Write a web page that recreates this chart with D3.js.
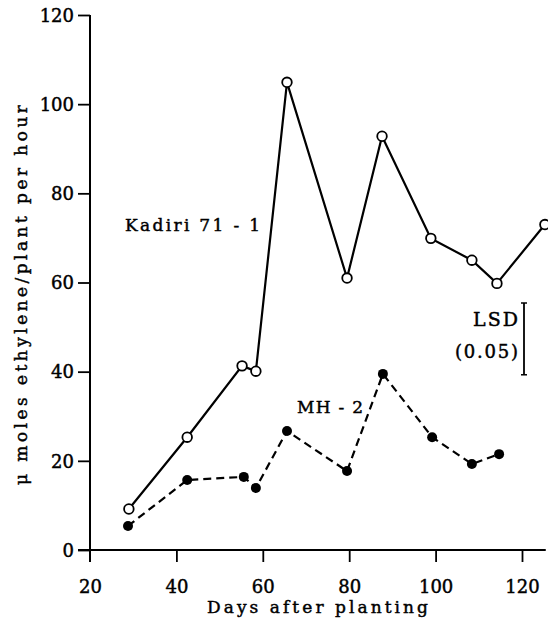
<!DOCTYPE html>
<html><head><meta charset="utf-8">
<script src="https://cdn.jsdelivr.net/npm/d3@7"></script>
<style>body{margin:0;background:#fff}svg{display:block}text{font-family:"DejaVu Serif","Liberation Serif",serif;fill:#000;stroke:#000;stroke-width:0.45px}</style>
</head><body><svg id="c" width="548" height="627"></svg>
<script>
const kadiriDays = [29, 42.5, 55.2, 58.4, 65.6, 79.5, 87.6, 98.9, 108.4, 114.2, 125.3];
const kadiriVals = [9.2, 25.3, 41.3, 40.1, 104.9, 61.0, 92.8, 69.9, 65.0, 59.8, 73.0];
const mhDays = [28.8, 42.5, 55.6, 58.4, 65.6, 79.5, 87.8, 99.2, 108.4, 114.7];
const mhVals = [5.4, 15.7, 16.4, 13.9, 26.7, 17.7, 39.5, 25.3, 19.3, 21.5];
const xTicks = [20, 40, 60, 80, 100, 120];
const yTicks = [0, 20, 40, 60, 80, 100, 120];
const lsdValue = 16.1;

const svg = d3.select("#c");
const x = d3.scaleLinear().domain([20, 120]).range([90, 522]);
const y = d3.scaleLinear().domain([0, 120]).range([550, 15]);

// axes
const xAxis = d3.axisBottom(x).tickValues(xTicks).tickSize(12).tickSizeOuter(0).tickPadding(18);
const gx = svg.append("g").attr("transform", `translate(0,${y(0)})`).call(xAxis);
gx.select(".domain").attr("d", `M${x(20)-12},0H${x(125.5)}`);
const yAxis = d3.axisLeft(y).tickValues(yTicks).tickSize(12).tickSizeOuter(0).tickPadding(4);
const gy = svg.append("g").attr("transform", `translate(${x(20)},0)`).call(yAxis);
gy.select(".domain").attr("d", `M0,${y(120)}V${y(0)+12}`);
svg.selectAll(".domain").attr("stroke", "#000").attr("stroke-width", 2);
svg.selectAll(".tick line").attr("stroke", "#000").attr("stroke-width", 1.8);
gx.selectAll(".tick line").attr("y1", 0);
gy.selectAll(".tick line").attr("x1", 0);
gx.selectAll(".tick").filter(d => d === 20).select("line").remove();
gy.selectAll(".tick").filter(d => d === 0).select("line").attr("x2", -12);
svg.selectAll(".tick text").attr("font-size", 18).attr("font-family", "DejaVu Serif").attr("fill", "#000");
gy.selectAll(".tick text").attr("dy", "0.35em");

// lines
const line = d3.line().x(d => x(d[0])).y(d => y(d[1]));
const kad = kadiriDays.map((d, i) => [d, kadiriVals[i]]);
const mh = mhDays.map((d, i) => [d, mhVals[i]]);
svg.append("path").datum(kad).attr("d", line).attr("fill", "none").attr("stroke", "#000").attr("stroke-width", 2.2);
svg.append("path").datum(mh).attr("d", line).attr("fill", "none").attr("stroke", "#000").attr("stroke-width", 2.2).attr("stroke-dasharray", "8,5");
svg.selectAll(".ko").data(kad).join("circle").attr("cx", d => x(d[0])).attr("cy", d => y(d[1])).attr("r", 4.8)
  .attr("fill", "#fff").attr("stroke", "#000").attr("stroke-width", 1.8);
svg.selectAll(".mo").data(mh).join("circle").attr("cx", d => x(d[0])).attr("cy", d => y(d[1])).attr("r", 5)
  .attr("fill", "#000");

// labels
svg.append("text").attr("x", 125).attr("y", 231).attr("font-size", 17).attr("textLength", 135).text("Kadiri 71 - 1");
svg.append("text").attr("x", 297).attr("y", 413).attr("font-size", 17).attr("textLength", 66).text("MH - 2");

// LSD bar
const lx = 524, ly1 = 303;
svg.append("line").attr("x1", lx).attr("x2", lx).attr("y1", ly1).attr("y2", ly1 + (y(0) - y(lsdValue))).attr("stroke", "#000").attr("stroke-width", 1.8);
[ly1, ly1 + (y(0) - y(lsdValue))].forEach(v => svg.append("line").attr("x1", lx - 3).attr("x2", lx + 3).attr("y1", v).attr("y2", v).attr("stroke", "#000").attr("stroke-width", 1.5));
svg.append("text").attr("x", 473).attr("y", 326).attr("font-size", 19).attr("textLength", 45).text("LSD");
svg.append("text").attr("x", 455).attr("y", 358).attr("font-size", 18).attr("textLength", 63).text("(0.05)");

// axis titles
svg.append("text").attr("x", 207).attr("y", 613).attr("font-size", 17).attr("textLength", 221).text("Days after planting");
svg.append("text").attr("transform", "translate(27,295) rotate(-90)").attr("text-anchor", "middle").attr("font-size", 17).attr("textLength", 380).text("μ moles ethylene/plant per hour");
</script></body></html>
